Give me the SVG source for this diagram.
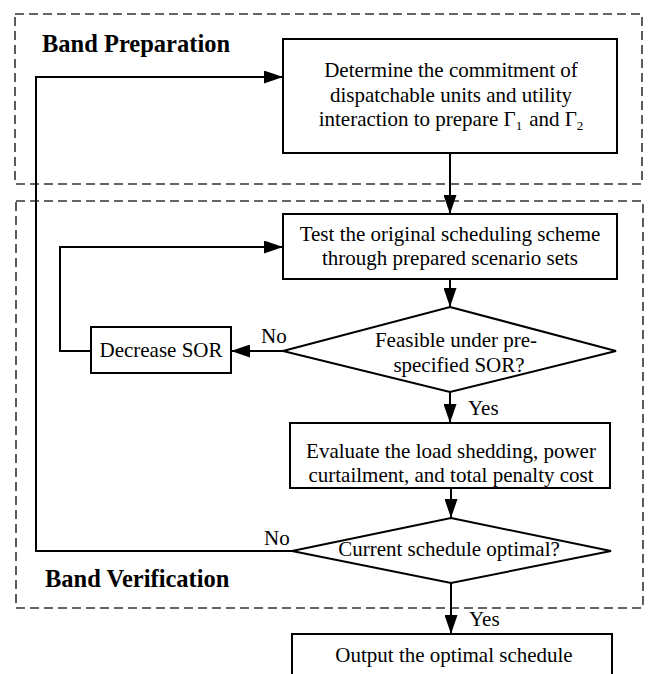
<svg xmlns="http://www.w3.org/2000/svg" width="655" height="674" viewBox="0 0 655 674">
<style>
.band{fill:none;stroke:#333;stroke-width:1.6;stroke-dasharray:9 5}
.box{fill:#fff;stroke:#000;stroke-width:2}
.con{fill:none;stroke:#000;stroke-width:2;marker-end:url(#ah)}
text{font-family:"Liberation Serif","Times New Roman",serif;font-size:21px;fill:#000}
.c{text-anchor:middle}
.title{font-weight:bold;font-size:24.5px}
.sub{font-size:13px}
</style>
<defs>
<marker id="ah" markerUnits="userSpaceOnUse" markerWidth="19" markerHeight="13" refX="19" refY="6.5" orient="auto">
<path d="M0,0 L19,6.5 L0,13 z" fill="#000"/>
</marker>
</defs>
<g id="band-preparation">
<rect class="band" x="15" y="14" width="627" height="170"/>
<text class="title" x="42" y="52">Band Preparation</text>
</g>
<g id="band-verification">
<rect class="band" x="16" y="201" width="627" height="407"/>
<text class="title" x="45" y="587">Band Verification</text>
</g>
<g id="connectors">
<path class="con" d="M450,153 V214"/>
<path class="con" d="M450,279 V307"/>
<path class="con" d="M283,351 H231"/>
<path class="con" d="M91,351 H60 V247 H283"/>
<path class="con" d="M450,392 V423"/>
<path class="con" d="M451,488 V518"/>
<path class="con" d="M292,551 H36 V77 H283"/>
<path class="con" d="M451,583 V634"/>
<text x="261" y="343">No</text>
<text x="468" y="415">Yes</text>
<text x="264" y="545">No</text>
<text x="469" y="626">Yes</text>
</g>
<g id="determine">
<rect class="box" x="283" y="39" width="334" height="114"/>
<text class="c" x="451" y="77">Determine the commitment of</text>
<text class="c" x="451" y="101.5">dispatchable units and utility</text>
<text class="c" x="451" y="126">interaction to prepare Γ<tspan class="sub" dy="4">1</tspan><tspan dx="7" dy="-4">and Γ</tspan><tspan class="sub" dy="4">2</tspan></text>
</g>
<g id="test">
<rect class="box" x="283" y="214" width="334" height="65"/>
<text class="c" x="450" y="240.5">Test the original scheduling scheme</text>
<text class="c" x="450" y="264.5">through prepared scenario sets</text>
</g>
<g id="feasible">
<polygon class="box" points="450,307 616,351 450,392 283,351"/>
<text class="c" x="456" y="347">Feasible under pre-</text>
<text class="c" x="459" y="371.5">specified SOR?</text>
</g>
<g id="decrease">
<rect class="box" x="91" y="327" width="140" height="46"/>
<text class="c" x="161" y="357">Decrease SOR</text>
</g>
<g id="evaluate">
<rect class="box" x="290" y="423" width="320" height="65"/>
<text class="c" x="451" y="458">Evaluate the load shedding, power</text>
<text class="c" x="451" y="482">curtailment, and total penalty cost</text>
</g>
<g id="optimal">
<polygon class="box" points="451,518 611,551 451,583 292,551"/>
<text class="c" x="449" y="556">Current schedule optimal?</text>
</g>
<g id="output">
<rect class="box" x="292" y="634" width="320" height="50"/>
<text class="c" x="454" y="662">Output the optimal schedule</text>
</g>
</svg>
